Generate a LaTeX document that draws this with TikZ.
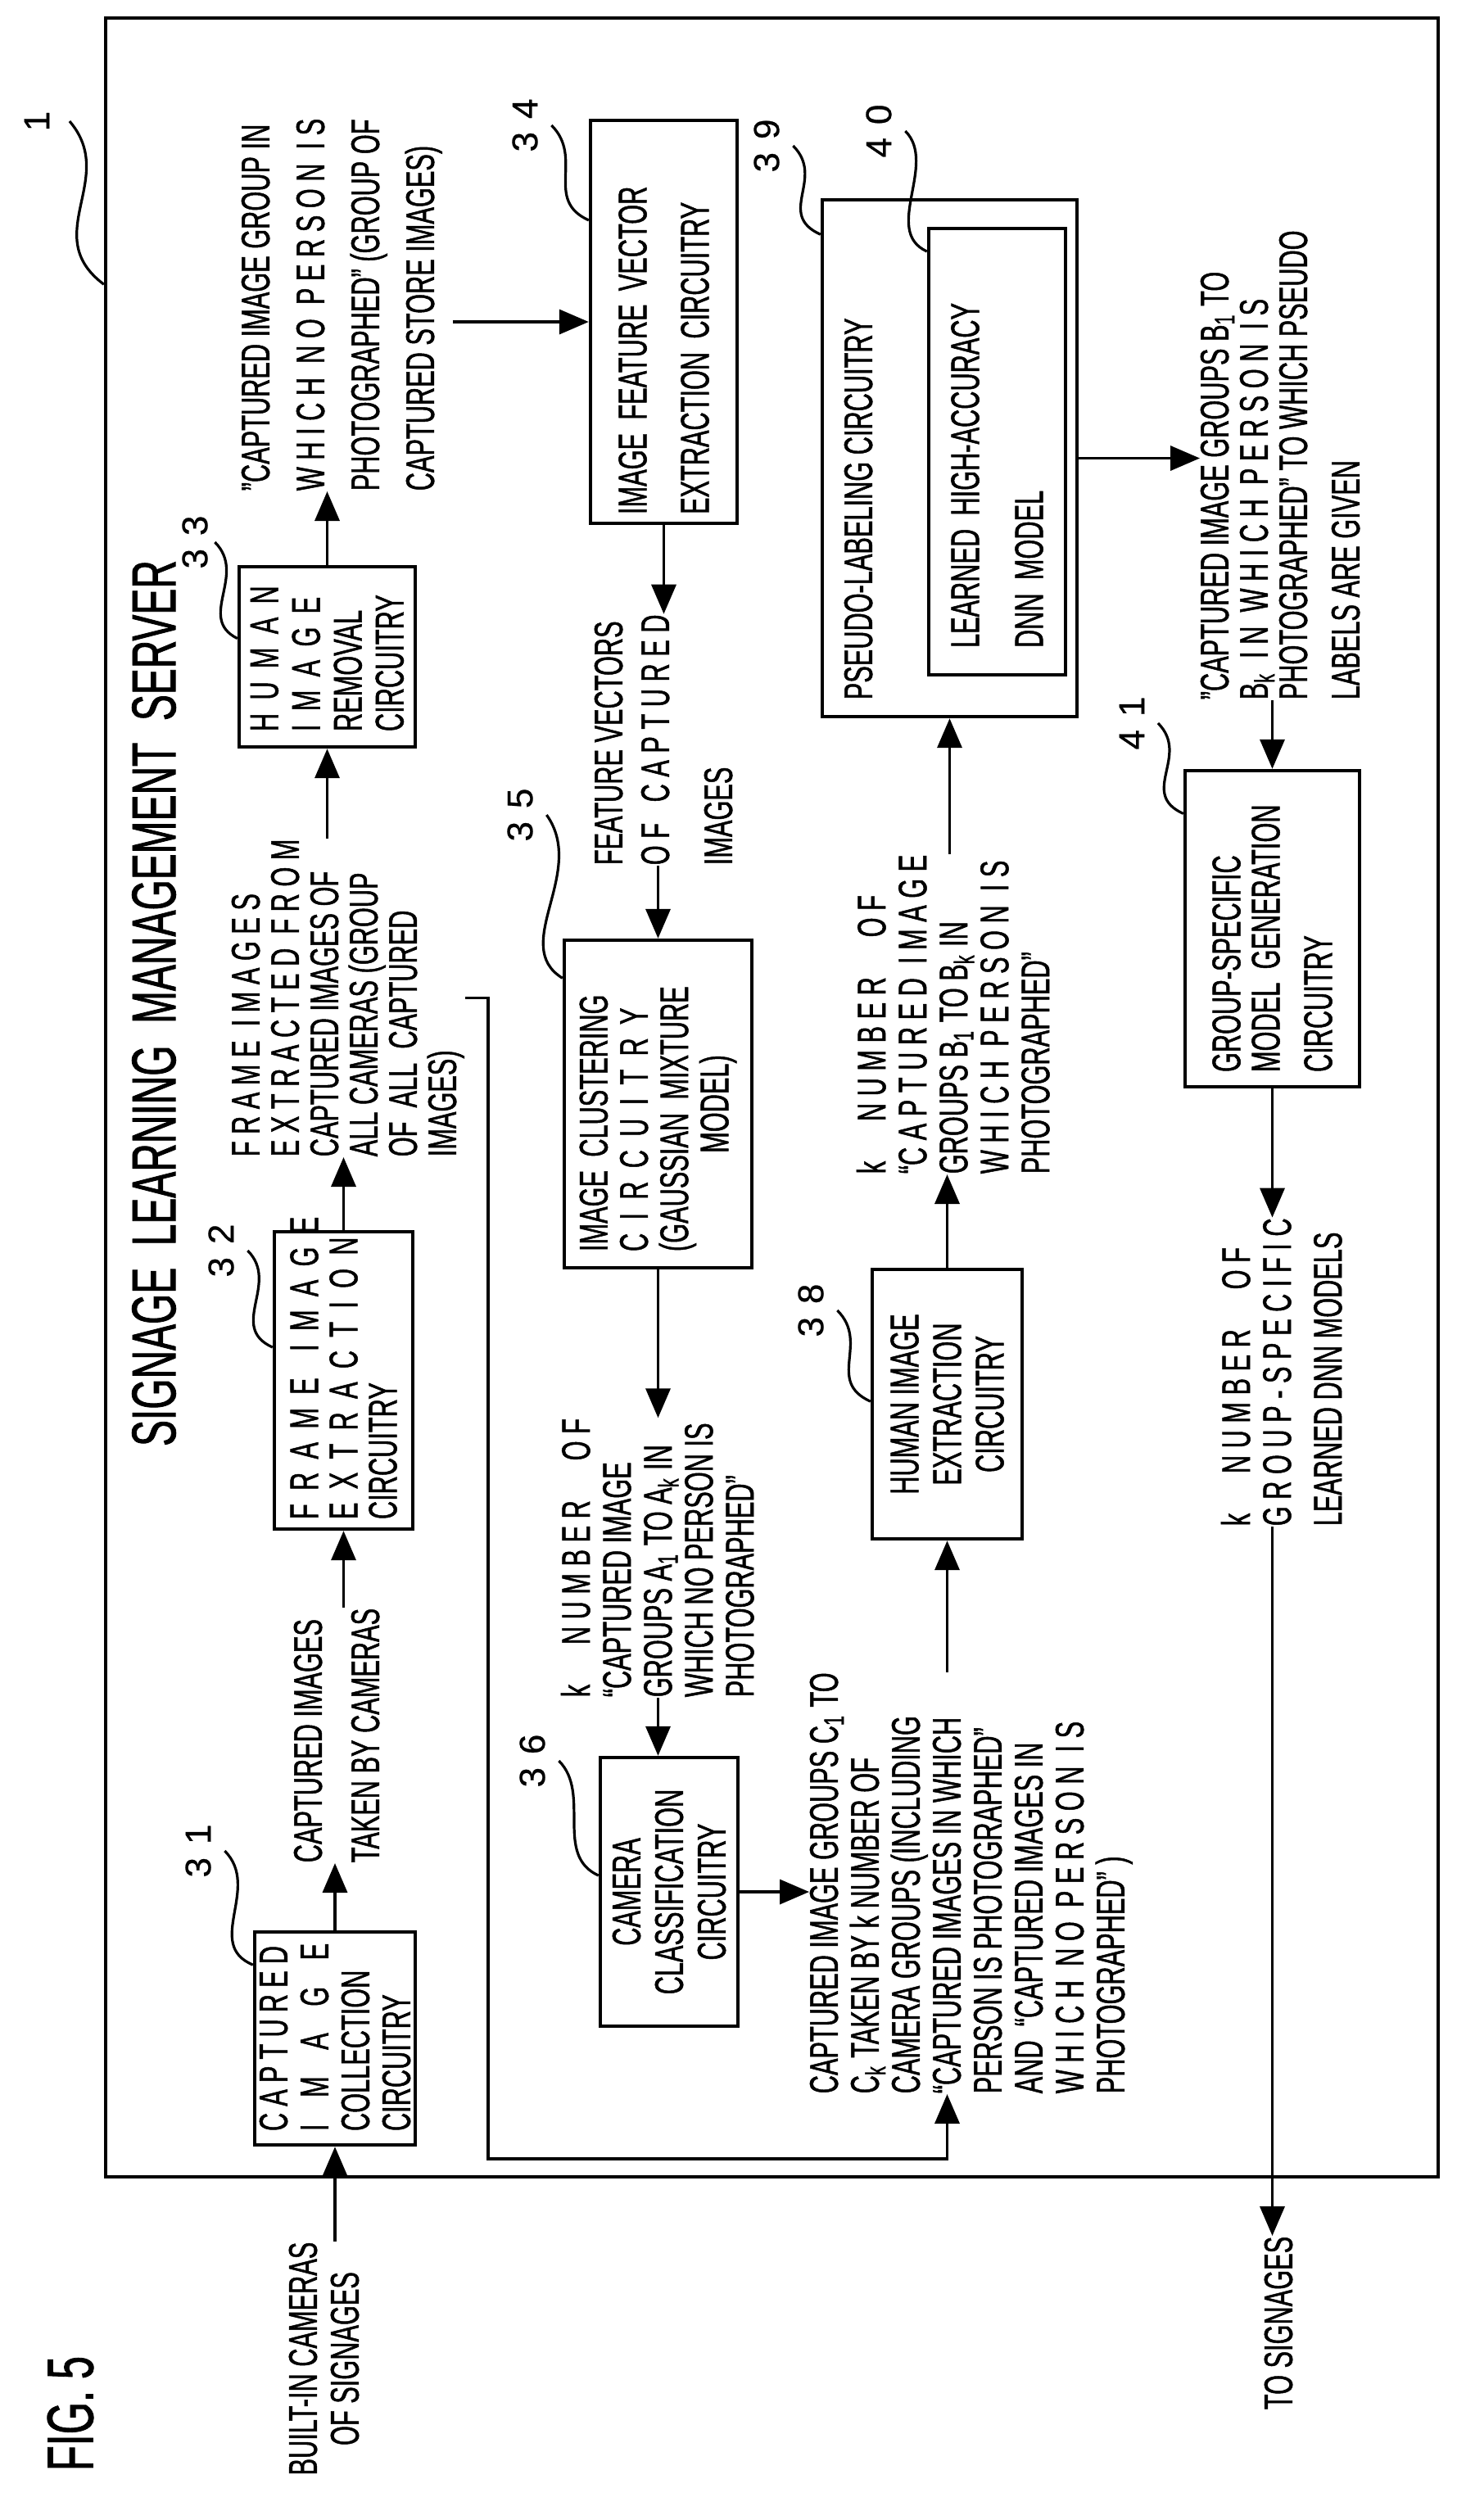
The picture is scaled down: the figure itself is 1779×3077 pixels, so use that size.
\documentclass[tikz,border=0pt]{standalone}
\usepackage{fontspec}
\setmainfont{Liberation Sans}[FakeStretch=0.63,FakeBold=1]
\newfontfamily\numf{Liberation Sans}[FakeBold=0.6]
\usetikzlibrary{arrows.meta,calc}
\newcommand\fsz[1]{\fontsize{12.2pt}{#1pt}\selectfont}
\newcommand\Lm[1]{\mbox{#1}}
\begin{document}
\begin{tikzpicture}[x=0.25pt,y=-0.25pt,
  every node/.style={font=\fsz{12.5}},
  box/.style={draw,line width=1.1pt,rotate=90,inner sep=0pt,align=left},
  tx/.style={rotate=90,inner sep=0pt,align=left,anchor=north west},
  lbl/.style={rotate=90,inner sep=0pt,font=\numf\fontsize{11pt}{11pt}\selectfont},
  arr/.style={-{Triangle[length=9pt,width=7.5pt]},line width=0.9pt},
  lead/.style={line width=0.8pt}]
\useasboundingbox (0,0) rectangle (1779,3077);
\node[draw,line width=1.1pt,minimum width=406.75pt,minimum height=659pt,inner sep=0pt] (frame) at (942.5,1340) {};
% title and figure label
\node[rotate=90,inner sep=0pt,font=\fontsize{19pt}{19pt}\selectfont] (title) at (188,1225) {SIGNAGE\ \ LEARNING\ \ MANAGEMENT\ \ SERVER};
\node[rotate=90,inner sep=0pt,font=\fontsize{20pt}{20pt}\selectfont] (fig) at (86,2947) {FIG. 5};
% boxes
\node[box,minimum width=65pt,minimum height=49pt,text width=56.5pt,font=\fsz{12.5}] (b31) at (409,2489)
 {\Lm{C\,A\,P\,T\,U\,R\,E\,D}\\\Lm{I\ \ M\ \ A\ \ G\ \ E}\\\Lm{COLLECTION}\\\Lm{CIRCUITRY}};
\node[box,minimum width=90.75pt,minimum height=42.25pt,text width=84.75pt,font=\fsz{12}] (b32) at (419.5,1685.5)
 {\Lm{F R A M E\ \ I M A G E}\\\Lm{E X T R A C T I O N}\\\Lm{CIRCUITRY}};
\node[box,minimum width=55pt,minimum height=53.75pt,text width=45.5pt,font=\fsz{12.75}] (b33) at (399.5,802)
 {\Lm{H U M A N}\\\Lm{I M A G E}\\\Lm{REMOVAL}\\\Lm{CIRCUITRY}};
\node[box,minimum width=123pt,minimum height=44.75pt,text width=117.5pt,font=\fsz{19}] (b34) at (810.5,393)
 {\Lm{IMAGE FEATURE VECTOR}\\\Lm{EXTRACTION CIRCUITRY}};
\node[box,minimum width=100pt,minimum height=57.25pt,text width=90pt,font=\fsz{12.3}] (b35) at (803.5,1348)
 {\Lm{IMAGE CLUSTERING}\\\Lm{C I R C U I T R Y}\\\Lm{(GAUSSIAN MIXTURE}\\\makebox[\linewidth]{MODEL)}};
\node[box,align=center,minimum width=82pt,minimum height=42pt,font=\fsz{13}] (b36) at (817,2310)
 {CAMERA\\CLASSIFICATION\\CIRCUITRY};
\node[box,align=center,minimum width=82.25pt,minimum height=45.75pt,font=\fsz{13}] (b38) at (1156.5,1714.5)
 {HUMAN IMAGE\\EXTRACTION\\CIRCUITRY};
\node[box,minimum width=157.75pt,minimum height=77.75pt] (b39) at (1159.5,559.5) {};
\node[tx] (t39) at (1030,855) {PSEUDO-LABELING CIRCUITRY};
\node[box,minimum width=136.25pt,minimum height=41.75pt,text width=119.75pt,font=\fsz{19.5}] (b40) at (1217.5,551.5)
 {\Lm{LEARNED HIGH-ACCURACY}\\\Lm{DNN MODEL}};
\node[box,minimum width=96.5pt,minimum height=53.25pt,text width=87.5pt,font=\fsz{12}] (b41) at (1553.5,1134)
 {\Lm{GROUP-SPECIFIC}\\\Lm{MODEL GENERATION}\\[4pt]\Lm{CIRCUITRY}};
% text blocks
\node[tx,font=\fsz{16.75}] (t33) at (294,600)
 {”CAPTURED IMAGE GROUP IN\\W H I C H\ \ N O\ \ P E R S O N\ \ I S\\PHOTOGRAPHED” (GROUP OF\\CAPTURED STORE IMAGES)};
\node[tx,font=\fsz{17.5}] (tci) at (358,2275) {CAPTURED IMAGES\\TAKEN BY CAMERAS};
\node[tx,font=\fsz{12}] (tfr) at (282,1413)
 {F R A M E\ \ I M A G E S\\E X T R A C T E D\ \ F R O M\\CAPTURED IMAGES OF\\ALL CAMERAS (GROUP\\OF\ \ ALL\ \ CAPTURED\\IMAGES)};
\node[tx,font=\fsz{14.25}] (tfv) at (725,1057) {FEATURE VECTORS\\O F\ \ \ C A P T U R E D\\[5pt]IMAGES};
\node[tx,font=\fsz{12.5}] (tka) at (684,2073)
 {k\quad N U M B E R\quad O F\\ “CAPTURED IMAGE\\GROUPS A\textsubscript{1} TO A\textsubscript{k} IN\\WHICH NO PERSON IS\\PHOTOGRAPHED”};
\node[tx,font=\fsz{12.5}] (tcc) at (988,2557)
 {CAPTURED IMAGE GROUPS C\textsubscript{1} TO\\C\textsubscript{k} TAKEN BY k NUMBER OF\\CAMERA GROUPS (INCLUDING\\“CAPTURED IMAGES IN WHICH\\PERSON IS PHOTOGRAPHED”\\AND\ \ “CAPTURED IMAGES IN\\W H I C H\ \ N O\ \ P E R S O N\ \ I S\\PHOTOGRAPHED” )};
\node[tx,font=\fsz{12.5}] (tkb) at (1045,1434)
 {k\quad N U M B E R\quad O F\\“C A P T U R E D\ \ I M A G E\\GROUPS B\textsubscript{1} TO B\textsubscript{k} IN\\W H I C H\ \ P E R S O N\ \ I S\\PHOTOGRAPHED”};
\node[tx,font=\fsz{12}] (tb) at (1465,855)
 {”CAPTURED IMAGE GROUPS B\textsubscript{1} TO\\B\textsubscript{k}\ \ I N\ \ W H I C H\ \ P E R S O N\ \ I S\\PHOTOGRAPHED” TO WHICH PSEUDO\\[4pt]LABELS ARE GIVEN};
\node[tx,font=\fsz{12.5}] (tkm) at (1490,1864)
 {k\quad N U M B E R\quad O F\\G R O U P - S P E C I F I C\\[3pt]LEARNED DNN MODELS};
\node[rotate=90,inner sep=0pt,anchor=east] (sig) at (1561,2730) {TO SIGNAGES};
\node[rotate=90,inner sep=0pt,align=center,font=\fsz{12.75}] (bi) at (395.5,2880) {BUILT-IN CAMERAS\\OF SIGNAGES};
\coordinate (cR) at (596,2636);
% connectors
\draw[arr] (b31.west |- bi.east) -- (b31.west);
\draw[arr] (b31.east) -- (b31.east |- tci.west);
\draw[arr] (b32.west |- tci.east) -- (b32.west);
\draw[arr] (b32.east) -- (b32.east |- tfr.west);
\draw[arr] (b33.west |- tfr.east) -- (b33.west);
\draw[arr] (b33.east) -- (b33.east |- t33.west);
\draw[arr] ([xshift=3pt]t33.south |- b34.center) -- (b34.north);
\draw[arr] (b34.west) -- (b34.west |- tfv.east);
\draw[arr] (b35.east |- tfv.west) -- (b35.east);
\draw[arr] (b35.west) -- (b35.west |- tka.east);
\draw[arr] (b35.west |- tka.west) -- (b35.west |- b36.east);
\draw[arr] (b36.south) -- (b36.south -| tcc.north);
\draw[arr] (tfr.south) -| (cR) -| (b38.west |- tcc.west);
\draw[arr] (b38.west |- tcc.east) -- (b38.west);
\draw[arr] (b38.east) -- (b38.east |- tkb.west);
\draw[arr] (b39.west |- tkb.east) -- (b39.west);
\draw[arr] (b39.south) -- (b39.south -| tb.north);
\draw[arr] (b41.east |- tb.west) -- (b41.east);
\draw[arr] (b41.west) -- (b41.west |- tkm.east);
\draw[arr] (b41.west |- tkm.west) -- (b41.west |- sig.east);
% reference labels
\node[lbl] (l1) at (45,148) {1};
\node[lbl] (l31) at (242,2260) {3\hspace{4pt}1};
\node[lbl] (l32) at (270,1527) {3\hspace{4pt}2};
\node[lbl] (l33) at (238,662) {3\hspace{4pt}3};
\node[lbl] (l34) at (641,153) {3\hspace{4pt}4};
\node[lbl] (l35) at (635,995) {3\hspace{4pt}5};
\node[lbl] (l36) at (650,2150) {3\hspace{4pt}6};
\node[lbl] (l38) at (990,1600) {3\hspace{4pt}8};
\node[lbl] (l39) at (936,178) {3\hspace{4pt}9};
\node[lbl] (l40) at (1073,160) {4\hspace{4pt}0};
\node[lbl] (l41) at (1382,883) {4\hspace{4pt}1};
\draw[lead] ([xshift=6pt]l1.south) .. controls +(60,70) and +(-80,-60) .. ($(frame.north west)!0.124!(frame.south west)$);
\draw[lead] ([xshift=4pt]l31.south) .. controls +(45,45) and +(-60,-25) .. ($(b31.north east)!0.16!(b31.north west)$);
\draw[lead] ([xshift=4pt]l32.south) .. controls +(40,40) and +(-55,-25) .. ($(b32.north east)!0.39!(b32.north west)$);
\draw[lead] ([xshift=2pt]l33.south) .. controls +(40,40) and +(-50,-25) .. ($(b33.north east)!0.4!(b33.north west)$);
\draw[lead] ([xshift=4pt]l34.south) .. controls +(40,40) and +(-55,-25) .. ($(b34.north east)!0.25!(b34.north west)$);
\draw[lead] ([xshift=4pt]l35.south) .. controls +(50,70) and +(-65,-40) .. ($(b35.north east)!0.12!(b35.north west)$);
\draw[lead] ([xshift=4pt]l36.south) .. controls +(40,40) and +(-55,-25) .. ($(b36.north east)!0.44!(b36.north west)$);
\draw[lead] ([xshift=4pt]l38.south) .. controls +(40,40) and +(-55,-25) .. ($(b38.north east)!0.49!(b38.north west)$);
\draw[lead] ([xshift=4pt]l39.south) .. controls +(40,40) and +(-55,-25) .. ($(b39.north east)!0.07!(b39.north west)$);
\draw[lead] ([xshift=4pt]l40.south) .. controls +(40,40) and +(-55,-25) .. ($(b40.north east)!0.055!(b40.north west)$);
\draw[lead] ([xshift=4pt]l41.south) .. controls +(40,40) and +(-55,-25) .. ($(b41.north east)!0.14!(b41.north west)$);
\end{tikzpicture}
\end{document}
